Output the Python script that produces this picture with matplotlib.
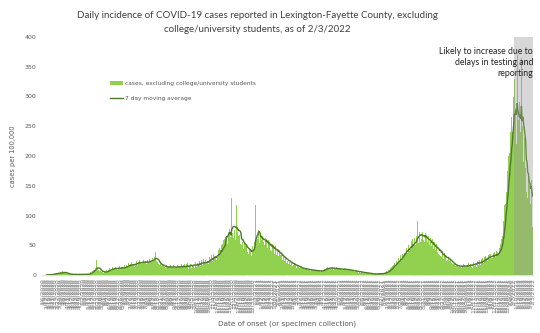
import numpy as np
import pandas as pd
import matplotlib
matplotlib.use('Agg')
import matplotlib.pyplot as plt
from matplotlib.patches import Patch
from matplotlib.lines import Line2D

# daily cases per 100,000, by stretch of the epidemic
spring_2020 = [0,0,0,0,0,0,0,1,0,0,1,0,1,1,
               1,2,1,2,3,2,3,4,3,2,3,4,5,3,4,6,4,3,5,4,3,2,
               2,1,2,1,1,2,1,1,0,1,2,1,1,1,0,1,1,2,1,1,1,0,1,1,1,2,1,1,1,2,1,2]
early_summer_2020 = [3,5,4,7,6,9,8,12,10,25,9,11,8,7,10,
                     6,5,4,7,3,5,6,4,8,5,7,9,6,12,
                     9,11,8,13,10,9,12,14,11,10,8,13,12,15,11,10,14,12,9,13,16,
                     12,14,17,13,15,20,16,13,18,22,15,17,19,14,21]
late_summer_2020 = [18,24,20,17,22,19,25,21,18,23,20,26,19,22,24,18,21,25,20,23,27,
                    22,26,24,28,23,25,30,38,26,24,22,20,18,17,21,16,15,18,14,16,13,
                    14,12,16,13,11,15,14,12,17,13,10,14,16,12,15,13,11,14,17,13,12,15]
fall_2020 = [13,18,10,15,17,9,19,14,11,18,20,10,16,13,19,21,11,16,17,20,
             12,22,18,13,21,15,19,24,15,22,25,16,19,27,22,14,25,19,
             24,28,18,30,24,27,34,26,23,36,28,38,30,25,40,31,42,33,45]
winter_2020 = [42,50,34,52,58,42,60,64,110,66,52,72,58,78,64,80,130,70,
               88,62,76,58,80,118,72,60,66,
               68,52,64,50,56,60,44,54,42,48,50,38,48,36,46,34,44,32,42,48,
               44,56,62,118,58,74,60,76,64,54,70,58,52,66,56]
spring_2021 = [64,50,62,48,60,46,58,44,56,42,54,40,52,38,50,36,48,40,34,44,
               42,32,40,30,34,37,26,30,33,24,27,30,21,24,27,19,22,24,17,20,22,15,17,20,13,19,12,17,
               15,13,14,12,11,13,10,12,11,9,12,10,8,11,9,10,8,9,7,10,8,9,7,8,6,9,7,8,6,7,8,6,7,5,8]
summer_2021 = [7,9,8,10,11,9,12,10,13,11,12,14,10,12,11,13,9,12,10,11,
               13,9,10,12,8,11,10,9,12,8,10,9,11,8,10,9,
               8,10,7,9,8,7,9,6,8,7,5,7,6,8,5,6,4,6,5,4,6,3,5,4,3,5,3,4,2,4,3,2,3,2,3,1,2,
               2,1,2,3,1,2,2,3,1,2,3,2,2,3,2,4,3,5,4,6,5,8,7,9,11,10,13,15,14]
delta_2021 = [17,21,14,23,24,18,26,28,20,30,33,24,36,38,33,37,44,34,46,49,
              37,51,40,54,44,57,45,60,49,56,62,51,66,58,91,54,70,72,56,74,60,
              72,58,74,56,70,54,68,56,52,66,50,62,50,48,60,46,44,56,42,40,
              52,38,49,36,34,46,32,31,40,29,27,37,25,34,24,31]
fall_2021 = [26,28,24,22,25,20,21,18,19,16,18,15,17,14,16,13,15,17,14,16,12,15,18,14,16,13,17,15,
             17,12,20,13,19,21,14,12,20,22,15,23,21,14,24,22,16,25,23,17,
             27,20,29,21,31,22,32,25,34,24,33,36,25,35,28,38,28,37,27,39,30,40,31]
omicron_2022 = [38,36,42,45,52,48,60,
                66,90,88,118,120,150,140,175,165,200,205,240,230,265,240,290,300,
                330,230,280,220,370,210,260,290,250,240,365,200,250,
                190,230,170,180,140,170,130,170,140,150,120,160,110,80]

cases = (spring_2020 + early_summer_2020 + late_summer_2020 + fall_2020 + winter_2020
         + spring_2021 + summer_2021 + delta_2021 + fall_2021 + omicron_2022)
report_date = pd.Timestamp("2022-02-03")
delay_days = 27   # recent onsets still incomplete

dates = pd.date_range(end=report_date, periods=len(cases), freq="D")
df = pd.DataFrame({"date": dates, "cases": cases})
df["avg7"] = df["cases"].rolling(7).mean()

fig = plt.figure(figsize=(5.4, 3.33), dpi=100)
ax = fig.add_axes([42/540, 58/333, 491/540, 238/333])

x = np.arange(len(df))
ax.bar(x, df["cases"], width=1.0, color="#92D050", linewidth=0)
ax.plot(x, df["avg7"], color="#4E7A2A", linewidth=1.0)

# shade the days likely to be revised upward
ax.axvspan(len(df) - delay_days - 0.5, len(df) - 0.5, color="#9b9b9b", alpha=0.4, linewidth=0, zorder=3)
ax.text(len(df) - 0.5, 384, "Likely to increase due to\ndelays in testing and\nreporting",
        ha="right", va="top", fontsize=6.3, family="Lato", color="#222222", linespacing=1.3, zorder=4)

ax.set_xlim(-0.5, len(df) - 0.5)
ax.set_ylim(0, 400)
ax.set_yticks(np.arange(0, 401, 50))
ax.tick_params(axis="y", length=0, labelsize=4.5, labelcolor="#595959", pad=4)

# dense date axis, one label every 3 days
step = 3
ax.set_xticks(x[::step])
ax.set_xticklabels([f"{d.month}/{d.day}/{d.year}" for d in dates[::step]],
                   rotation=90, fontsize=4.3, color="#7f7f7f")
ax.tick_params(axis="x", length=1.5, width=0.3, color="#d0d0d0", pad=1)

for s in ["top", "right", "left"]:
    ax.spines[s].set_visible(False)
ax.spines["bottom"].set_color("#d9d9d9")
ax.spines["bottom"].set_linewidth(0.6)

ax.set_ylabel("cases per 100,000", fontsize=4.8, color="#595959", labelpad=6)
ax.set_xlabel("Date of onset (or specimen collection)", fontsize=5.2, color="#595959", labelpad=5)

fig.text(257/540, 1 - 11/333,
         "Daily incidence of COVID-19 cases reported in Lexington-Fayette County, excluding\n"
         "college/university students, as of 2/3/2022",
         ha="center", va="top", fontsize=7.0, family="Lato", color="#404040", linespacing=1.75)

handles = [Patch(facecolor="#92D050", edgecolor="none"),
           Line2D([0], [0], color="#4E7A2A", linewidth=1.0)]
fig.legend(handles, ["cases, excluding college/university students", "7 day moving average"],
           loc="upper left", bbox_to_anchor=(105/540, 1 - 76/333), frameon=False,
           fontsize=4.2, labelcolor="#595959", handlelength=2.2, handleheight=0.6,
           labelspacing=1.6, handletextpad=0.4)

fig.savefig("out.png", dpi=100)
